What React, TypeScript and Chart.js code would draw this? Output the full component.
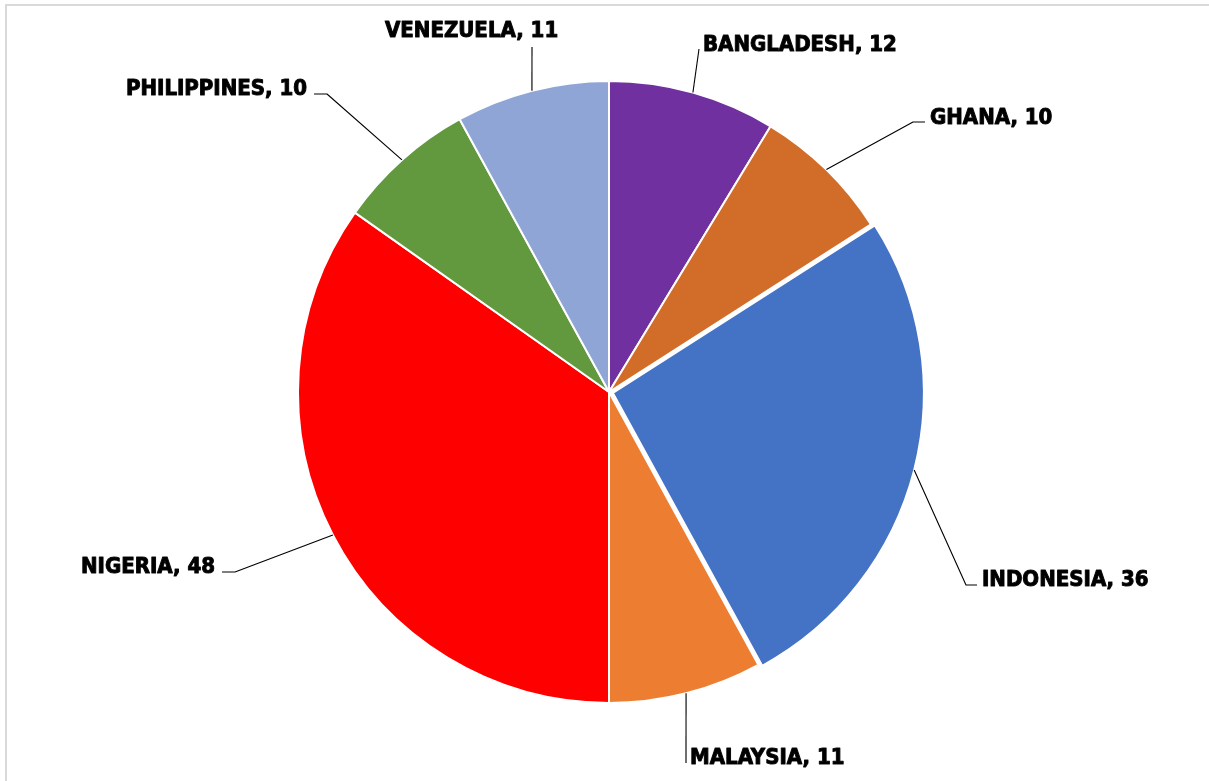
import React, { useEffect, useRef } from 'react';
import { Chart, registerables } from 'chart.js';

Chart.register(...registerables);

// ---- data ----
const countries = ['BANGLADESH', 'GHANA', 'INDONESIA', 'MALAYSIA', 'NIGERIA', 'PHILIPPINES', 'VENEZUELA'];
const values = [12, 10, 36, 11, 48, 10, 11];

// ---- styles ----
const sliceColors = ['#7030A0', '#D16D28', '#4472C4', '#ED7D31', '#FF0000', '#62993E', '#8FA5D5'];
const sliceExplode = [0, 0, 16, 0, 0, 0, 0];

// label layout, pixel offsets from the pie centre: text anchor + leader-line points
type LabelLayout = { tx: number; ty: number; align: CanvasTextAlign; path: number[][] };
const labelLayout: LabelLayout[] = [
  { tx: 94, ty: -341, align: 'left', path: [[90, -343]] },
  { tx: 321, ty: -268, align: 'left', path: [[304, -270], [316, -270]] },
  { tx: 373, ty: 193.5, align: 'left', path: [[357, 193], [368, 193]] },
  { tx: 81, ty: 372, align: 'left', path: [[77, 371]] },
  { tx: -394, ty: 181, align: 'right', path: [[-374, 180], [-387, 180]] },
  { tx: -302, ty: -297, align: 'right', path: [[-282, -298], [-295, -298]] },
  { tx: -224, ty: -355, align: 'left', path: [[-77, -345]] },
];

const LABEL_FONT = "bold 22px 'Liberation Sans Narrow', 'DejaVu Sans Condensed', 'Liberation Sans', sans-serif";

const labelPlugin = {
  id: 'pieLabels',
  afterDraw(chart: any) {
    const ctx: CanvasRenderingContext2D = chart.ctx;
    const meta = chart.getDatasetMeta(0);
    ctx.save();
    meta.data.forEach((el: any, i: number) => {
      const p = el.getProps(['x', 'y', 'startAngle', 'endAngle', 'outerRadius'], true);
      const mid = (p.startAngle + p.endAngle) / 2;
      const off = (sliceExplode[i] || 0) / 4;
      const sx = p.x + Math.cos(mid) * (p.outerRadius + off);
      const sy = p.y + Math.sin(mid) * (p.outerRadius + off);
      const lay = labelLayout[i];
      ctx.beginPath();
      ctx.strokeStyle = '#000';
      ctx.lineWidth = 1.1;
      ctx.moveTo(sx, sy);
      lay.path.forEach(([dx, dy]) => ctx.lineTo(p.x + dx, p.y + dy));
      ctx.stroke();

      const text = `${chart.data.labels[i]}, ${chart.data.datasets[0].data[i]}`;
      ctx.font = LABEL_FONT;
      ctx.textAlign = lay.align;
      ctx.textBaseline = 'alphabetic';
      ctx.fillStyle = '#000';
      ctx.strokeStyle = '#111';
      ctx.lineWidth = 1;
      ctx.lineJoin = 'round';
      ctx.strokeText(text, p.x + lay.tx, p.y + lay.ty);
      ctx.fillText(text, p.x + lay.tx, p.y + lay.ty);
    });
    ctx.restore();
  },
};

const framePlugin = {
  id: 'frame',
  beforeDraw(chart: any) {
    const ctx: CanvasRenderingContext2D = chart.ctx;
    ctx.save();
    ctx.fillStyle = '#FFFFFF';
    ctx.fillRect(0, 0, chart.width, chart.height);
    ctx.fillStyle = '#D9D9D9';
    ctx.fillRect(5, 4, chart.width - 5, 2);
    ctx.fillRect(5, 4, 2, chart.height - 4);
    ctx.restore();
  },
};

export default function App() {
  const canvasRef = useRef<HTMLCanvasElement | null>(null);

  useEffect(() => {
    if (!canvasRef.current) return;
    const chart = new Chart(canvasRef.current, {
      type: 'pie',
      data: {
        labels: countries,
        datasets: [
          {
            data: values,
            backgroundColor: sliceColors,
            borderColor: '#FFFFFF',
            borderWidth: 2,
            offset: sliceExplode,
            hoverOffset: 0,
          },
        ],
      },
      options: {
        responsive: false,
        maintainAspectRatio: false,
        animation: false,
        rotation: 0,
        layout: { padding: { left: 200, right: 191, top: 72, bottom: 69 } },
        plugins: {
          legend: { display: false },
          tooltip: { enabled: false },
        },
      },
      plugins: [framePlugin, labelPlugin],
    });
    return () => chart.destroy();
  }, []);

  return (
    <div style={{ position: 'absolute', left: 0, top: 0, width: 1209, height: 781, background: '#fff' }}>
      <canvas ref={canvasRef} width={1209} height={781} style={{ display: 'block' }} />
    </div>
  );
}
